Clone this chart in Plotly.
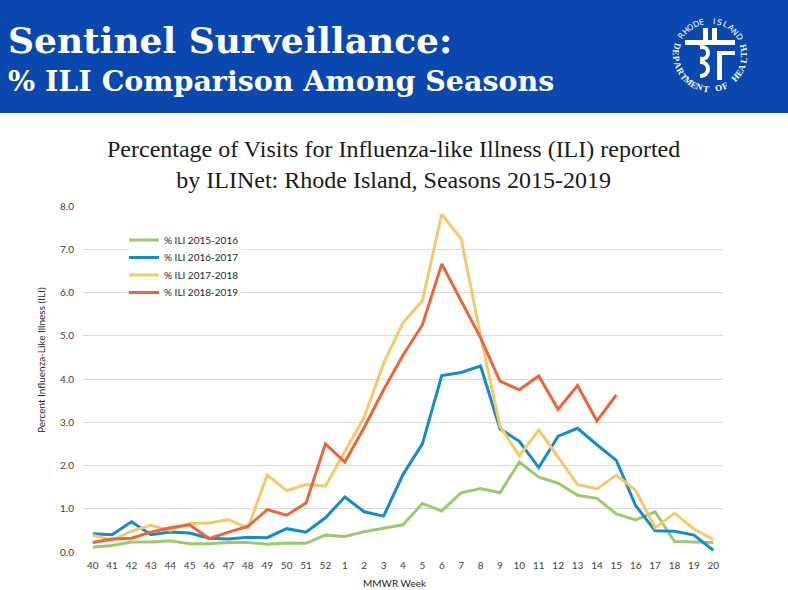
import math
import plotly.graph_objects as go

weeks = ["40", "41", "42", "43", "44", "45", "46", "47", "48", "49", "50", "51", "52",
         "1", "2", "3", "4", "5", "6", "7", "8", "9", "10", "11", "12", "13", "14", "15",
         "16", "17", "18", "19", "20"]

ili_2015_2016 = [0.11, 0.15, 0.23, 0.23, 0.26, 0.19, 0.19, 0.22, 0.22, 0.18, 0.21, 0.20, 0.39,
                 0.36, 0.47, 0.55, 0.63, 1.12, 0.95, 1.37, 1.47, 1.37, 2.08, 1.73, 1.59, 1.31,
                 1.24, 0.88, 0.74, 0.93, 0.24, 0.23, 0.22]
ili_2016_2017 = [0.42, 0.40, 0.70, 0.40, 0.46, 0.44, 0.32, 0.30, 0.34, 0.33, 0.54, 0.46, 0.79,
                 1.27, 0.93, 0.83, 1.79, 2.50, 4.08, 4.15, 4.30, 2.85, 2.56, 1.95, 2.68, 2.86,
                 2.48, 2.12, 1.07, 0.49, 0.48, 0.39, 0.04]
ili_2017_2018 = [0.39, 0.27, 0.48, 0.62, 0.50, 0.66, 0.67, 0.75, 0.55, 1.78, 1.42, 1.56, 1.52,
                 2.33, 3.12, 4.36, 5.30, 5.81, 7.81, 7.24, 5.00, 2.91, 2.22, 2.82, 2.20, 1.56,
                 1.46, 1.78, 1.42, 0.56, 0.90, 0.53, 0.29]
ili_2018_2019 = [0.22, 0.30, 0.32, 0.46, 0.56, 0.63, 0.31, 0.46, 0.59, 0.98, 0.85, 1.13, 2.50,
                 2.08, 2.88, 3.75, 4.55, 5.25, 6.66, 5.80, 4.95, 3.95, 3.75, 4.07, 3.30, 3.85,
                 3.03, 3.63, None, None, None, None, None]

series_names = ["% ILI 2015-2016", "% ILI 2016-2017", "% ILI 2017-2018", "% ILI 2018-2019"]
series_values = [ili_2015_2016, ili_2016_2017, ili_2017_2018, ili_2018_2019]
series_colors = ["#9DCA6C", "#168ACD", "#F3CA6B", "#E8663A"]

y_ticks = [0, 1, 2, 3, 4, 5, 6, 7, 8]
y_tick_labels = ["0.0", "1.0", "2.0", "3.0", "4.0", "5.0", "6.0", "7.0", "8.0"]

W, H = 788, 590
L, R, T, B = 83, 723, 206, 552
BLUE = "#0A47AE"


def xp(px):
    return (px - L) / (R - L)


def yp(py):
    return (B - py) / (B - T)


legend_keys = ["legend", "legend2", "legend3", "legend4"]
legend_rows = [240, 257.5, 275, 292.5]

fig = go.Figure()
for name, vals, col, lg in zip(series_names, series_values, series_colors, legend_keys):
    fig.add_trace(go.Scatter(x=weeks, y=vals, name=name, mode="lines", legend=lg,
                             line=dict(color=col, width=3), connectgaps=False))

shapes = []
annotations = []

# header band
shapes.append(dict(type="rect", xref="paper", yref="paper", x0=xp(-5), x1=xp(W + 5),
                   y0=yp(113), y1=yp(-5), fillcolor=BLUE, line=dict(width=0), layer="below"))

annotations.append(dict(text="<b>Sentinel Surveillance:</b>", xref="paper", yref="paper",
                        x=xp(6), y=yp(40), xanchor="left", yanchor="middle", showarrow=False,
                        font=dict(family="DejaVu Serif", size=36, color="white")))
annotations.append(dict(text="<b>% ILI Comparison Among Seasons</b>", xref="paper", yref="paper",
                        x=xp(6), y=yp(81), xanchor="left", yanchor="middle", showarrow=False,
                        font=dict(family="DejaVu Serif", size=28.5, color="white")))

# logo (approximation)
cx, cy, r = 710, 55, 34
top_text = "RHODE ISLAND"
a0, a1 = 146, 32
for i, ch in enumerate(top_text):
    th = a0 + (a1 - a0) * i / (len(top_text) - 1)
    x = cx + r * math.cos(math.radians(th))
    y = cy - r * math.sin(math.radians(th))
    if ch != " ":
        annotations.append(dict(text=ch, xref="paper", yref="paper",
                                x=xp(x), y=yp(y), xanchor="center", yanchor="middle",
                                showarrow=False, textangle=90 - th,
                                font=dict(family="DejaVu Sans", size=8, color="white")))
bot_text = "DEPARTMENT OF HEALTH"
b0, b1 = 165, 372
for i, ch in enumerate(bot_text):
    th = b0 + (b1 - b0) * i / (len(bot_text) - 1)
    x = cx + r * math.cos(math.radians(th))
    y = cy - r * math.sin(math.radians(th))
    if ch != " ":
        annotations.append(dict(text="<b>" + ch + "</b>", xref="paper", yref="paper",
                                x=xp(x), y=yp(y), xanchor="center", yanchor="middle",
                                showarrow=False, textangle=270 - th,
                                font=dict(family="Liberation Serif", size=9, color="white")))

# cross symbol
for (ccx, ccy, ro, ri) in [(702, 53, 8, 4), (701, 69, 9, 5)]:
    shapes.append(dict(type="circle", xref="paper", yref="paper", x0=xp(ccx - ro), x1=xp(ccx + ro),
                       y0=yp(ccy + ro), y1=yp(ccy - ro), fillcolor="white", line=dict(width=0)))
    shapes.append(dict(type="circle", xref="paper", yref="paper", x0=xp(ccx - ri), x1=xp(ccx + ri),
                       y0=yp(ccy + ri), y1=yp(ccy - ri), fillcolor=BLUE, line=dict(width=0)))
shapes.append(dict(type="rect", xref="paper", yref="paper", x0=xp(686), x1=xp(700),
                   y0=yp(80), y1=yp(46), fillcolor=BLUE, line=dict(width=0)))
for (x0, y0, x1, y1) in [(703, 28, 708, 40), (712, 28, 717, 40), (685, 40, 735, 45),
                         (717, 51, 735, 55), (717, 55, 722, 80)]:
    shapes.append(dict(type="rect", xref="paper", yref="paper", x0=xp(x0), x1=xp(x1),
                       y0=yp(y1), y1=yp(y0), fillcolor="white", line=dict(width=0)))

# white panel behind legend (hides gridlines there)
shapes.append(dict(type="rect", xref="paper", yref="paper", x0=xp(129), x1=xp(241),
                   y0=yp(301), y1=yp(231), fillcolor="white", line=dict(width=0), layer="above"))

# chart title
annotations.append(dict(text="Percentage of Visits for Influenza-like Illness (ILI) reported<br>"
                             "by ILINet: Rhode Island, Seasons 2015-2019",
                        xref="paper", yref="paper", x=xp(393), y=yp(164), xanchor="center",
                        yanchor="middle", showarrow=False, align="center",
                        font=dict(family="Liberation Serif", size=24, color="#1a1a1a")))

# axis titles
annotations.append(dict(text="Percent Influenza-Like Illness (ILI)", xref="paper", yref="paper",
                        x=xp(41), y=yp(360), xanchor="center", yanchor="middle", textangle=-90,
                        showarrow=False, font=dict(family="Lato", size=10, color="#262626")))
annotations.append(dict(text="MMWR Week", xref="paper", yref="paper",
                        x=xp(395), y=yp(583), xanchor="center", yanchor="middle",
                        showarrow=False, font=dict(family="Lato", size=10, color="#262626")))

legend_common = dict(xanchor="left", yanchor="middle", bgcolor="rgba(0,0,0,0)",
                     font=dict(family="Lato", size=10, color="#262626"),
                     itemwidth=30, borderwidth=0)
legend_layout = {}
for lg, row in zip(legend_keys, legend_rows):
    legend_layout[lg] = dict(x=xp(124), y=yp(row), **legend_common)

fig.update_layout(
    width=W, height=H,
    margin=dict(l=L, r=W - R, t=T, b=H - B, pad=0),
    paper_bgcolor="white", plot_bgcolor="white",
    shapes=shapes, annotations=annotations,
    showlegend=True,
    xaxis=dict(type="category", categoryorder="array", categoryarray=weeks,
               range=[-0.5, len(weeks) - 0.5], showgrid=False, zeroline=False,
               showline=False, ticks="", ticklabelstandoff=6,
               tickfont=dict(family="Lato", size=10, color="#404040"), tickangle=0),
    yaxis=dict(range=[0, 8], tickvals=y_ticks, ticktext=y_tick_labels, showgrid=True,
               gridcolor="#D9D9D9", gridwidth=1, zeroline=False, showline=False,
               ticks="", ticklen=0, ticklabelstandoff=8,
               tickfont=dict(family="Lato", size=10, color="#404040")),
    **legend_layout,
)

fig.write_html("out.html", config={"displayModeBar": False},
               post_script="document.body.style.margin='0px';")
